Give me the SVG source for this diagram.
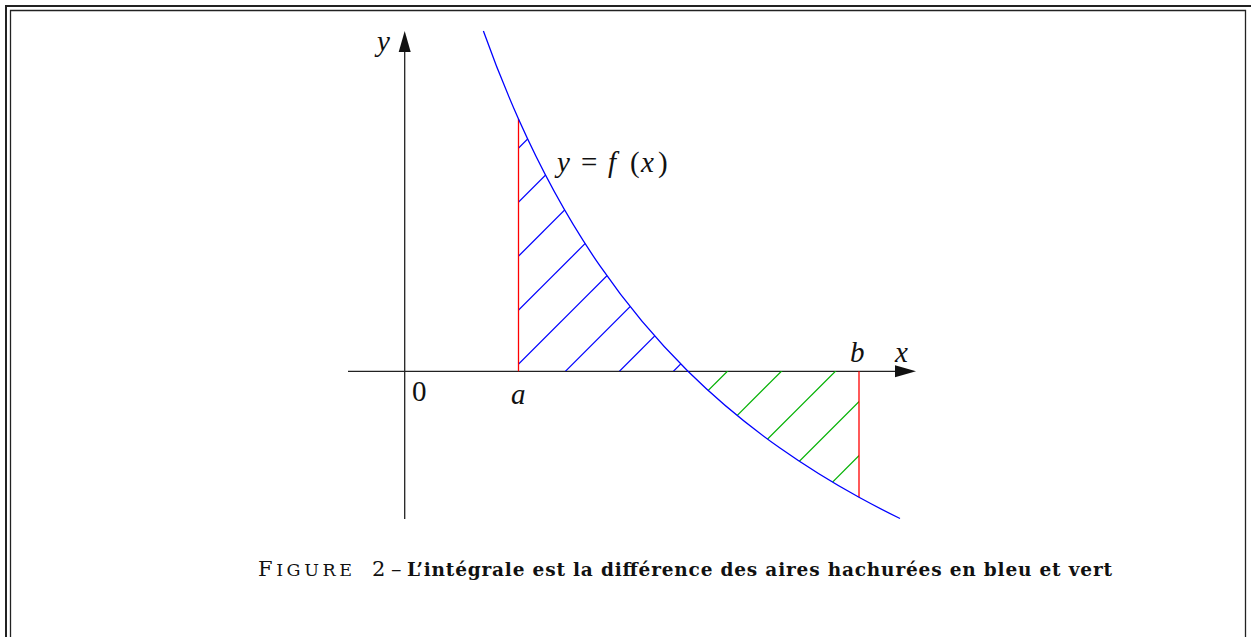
<svg xmlns="http://www.w3.org/2000/svg" width="1251" height="637" viewBox="0 0 1251 637">
<style>
.frame{fill:none;stroke:#222}
.axis{fill:none;stroke:#222;stroke-width:1.3}
.curve{fill:none;stroke:#0000ff;stroke-width:1.3}
.bh{stroke:#0000ff;stroke-width:1.2}
.gh{stroke:#00b000;stroke-width:1.2}
.red{stroke:#ff0000;stroke-width:1.3}
.m{font-family:"Liberation Serif",serif;font-size:29px;fill:#111}
.i{font-style:italic}
.cap{font-family:"DejaVu Serif","Liberation Serif",serif;font-size:18.5px;fill:#111}
.big{font-size:21px}
.sc{font-size:17.5px}
</style>
<defs>
<clipPath id="blueClip"><path d="M518.5,371 L518.5,119 C545.67,179.97 572.83,226.61 600,265.98 C629.23,308.37 658.47,342.11 687.7,371 Z"/></clipPath>
<clipPath id="greenClip"><path d="M687.7,371 C718.47,401.41 749.23,426.33 780,448.04 C806.33,466.62 832.67,482.82 859,497.3 L859,371 Z"/></clipPath>
</defs>
<rect width="1251" height="637" fill="#fff"/>
<g id="frame">
<path class="frame" stroke-width="2" d="M6,637 V6 H1251"/>
<path class="frame" stroke-width="1.3" d="M10.5,637 V10.5 H1245.5 V637"/>
</g>
<g id="axes">
<line class="axis" x1="348" y1="371.3" x2="897" y2="371.3"/>
<polygon points="916,371.3 895,365.3 895,377.3" fill="#111"/>
<line class="axis" x1="404.7" y1="519" x2="404.7" y2="50"/>
<polygon points="404.7,31 398.7,52 410.7,52" fill="#111"/>
</g>
<g id="hatch-blue" clip-path="url(#blueClip)">
<line class="bh" x1="500" y1="166.7" x2="710" y2="-43.3"/>
<line class="bh" x1="500" y1="220.7" x2="710" y2="10.7"/>
<line class="bh" x1="500" y1="274.7" x2="710" y2="64.7"/>
<line class="bh" x1="500" y1="328.7" x2="710" y2="118.7"/>
<line class="bh" x1="500" y1="382.7" x2="710" y2="172.7"/>
<line class="bh" x1="500" y1="436.7" x2="710" y2="226.7"/>
<line class="bh" x1="500" y1="490.7" x2="710" y2="280.7"/>
<line class="bh" x1="500" y1="544.7" x2="710" y2="334.7"/>
</g>
<g id="hatch-green" clip-path="url(#greenClip)">
<line class="gh" x1="670" y1="428.7" x2="880" y2="218.7"/>
<line class="gh" x1="670" y1="482.7" x2="880" y2="272.7"/>
<line class="gh" x1="670" y1="536.7" x2="880" y2="326.7"/>
<line class="gh" x1="670" y1="590.7" x2="880" y2="380.7"/>
<line class="gh" x1="670" y1="644.7" x2="880" y2="434.7"/>
</g>
<g id="bounds">
<line class="red" x1="518.5" y1="119" x2="518.5" y2="371.3"/>
<line class="red" x1="859" y1="371.3" x2="859" y2="497.3"/>
</g>
<g id="curve">
<path class="curve" d="M483.4,31 C495.1,63.790 506.8,92.74 518.5,119 C545.67,179.97 572.83,226.61 600,265.98 C629.23,308.37 658.47,342.11 687.7,371 C718.47,401.41 749.23,426.33 780,448.04 C806.33,466.62 832.67,482.82 859,497.3 C872.67,504.82 886.33,511.82 900,518.5"/>
</g>
<g id="labels">
<text class="m i" x="377" y="50.5">y</text>
<text class="m i" x="895" y="361.5">x</text>
<text class="m i" x="850" y="361.5">b</text>
<text class="m i" x="511" y="404">a</text>
<text class="m" x="412" y="401">0</text>
<text class="m" y="172"><tspan class="i" x="557">y</tspan><tspan x="581">=</tspan><tspan class="i" x="608">f</tspan><tspan x="630">(</tspan><tspan class="i" x="641">x</tspan><tspan x="658">)</tspan></text>
</g>
<g id="caption">
<text class="cap big" x="258" y="576" textLength="94">F<tspan class="sc">IGURE</tspan></text>
<text class="cap big" x="372" y="576">2</text>
<text class="cap big" x="391" y="576">–</text>
<text class="cap" x="407" y="576" font-weight="bold" textLength="705">L’intégrale est la différence des aires hachurées en bleu et vert</text>
</g>
</svg>
